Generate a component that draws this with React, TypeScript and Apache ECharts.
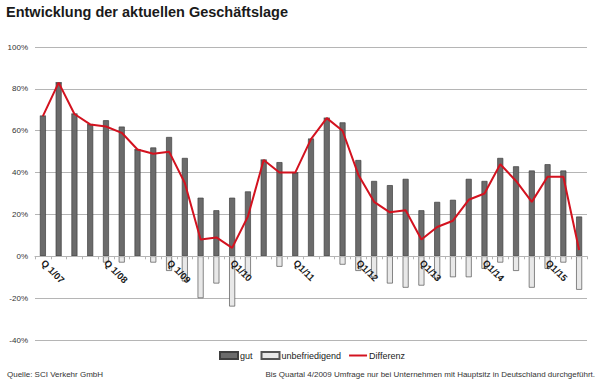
import React, { useEffect, useRef } from "react";
import * as echarts from "echarts";

const categories = [
  "Q 1/07", "Q 2/07", "Q 3/07", "Q 4/07",
  "Q 1/08", "Q 2/08", "Q 3/08", "Q 4/08",
  "Q 1/09", "Q 2/09", "Q 3/09", "Q 4/09",
  "Q1/10", "Q2/10", "Q3/10", "Q4/10",
  "Q1/11", "Q2/11", "Q3/11", "Q4/11",
  "Q1/12", "Q2/12", "Q3/12", "Q4/12",
  "Q1/13", "Q2/13", "Q3/13", "Q4/13",
  "Q1/14", "Q2/14", "Q3/14", "Q4/14",
  "Q1/15", "Q2/15", "Q3/15",
];

const gut = [
  67, 83, 68, 63, 65, 62, 51, 52, 57, 47, 28, 22,
  28, 31, 46, 45, 40, 56, 66, 64, 46, 36, 34, 37,
  22, 26, 27, 37, 36, 47, 43, 41, 44, 41, 19,
];

const unbefriedigend = [
  0, 0, 0, 0, -3, -3, 0, -3, -7, -12, -20, -13,
  -24, -9, 0, -5, 0, 0, 0, -4, -7, -10, -13, -15,
  -14, -11, -10, -10, -6, -3, -7, -15, -6, -3, -16,
];

const differenz = [
  67, 83, 68, 63, 62, 59, 51, 49, 50, 35, 8, 9,
  4, 19, 46, 40, 40, 56, 66, 60, 39, 26, 21, 22,
  8, 14, 17, 27, 30, 44, 36, 26, 38, 38, 3,
];

const yTicks = { min: -40, max: 100, interval: 20 };

const title = "Entwicklung der aktuellen Geschäftslage";
const sourceNote = "Quelle: SCI Verkehr GmbH";
const footNote =
  "Bis Quartal 4/2009 Umfrage nur bei Unternehmen mit Hauptsitz in Deutschland durchgeführt.";

export default function App() {
  const ref = useRef<HTMLDivElement>(null);

  useEffect(() => {
    if (!ref.current) return;
    const chart = echarts.init(ref.current, null, { renderer: "svg" });
    const font = "Liberation Sans, Arial, sans-serif";
    const gridTop = 47;
    const gridBottom = 45;
    const plotH = 385 - gridTop - gridBottom;
    const zeroOffset = -(plotH * (0 - yTicks.min)) / (yTicks.max - yTicks.min);
    chart.setOption({
      animation: false,
      textStyle: { fontFamily: font },
      grid: { left: 35, right: 13, top: gridTop, bottom: gridBottom, containLabel: false },
      legend: {
        top: 346,
        left: 214,
        itemWidth: 18,
        itemHeight: 7,
        itemGap: 8,
        textStyle: { fontSize: 9, color: "#222", fontFamily: font, padding: [0, 0, 0, -3] },
        data: [
          { name: "gut", icon: "rect" },
          { name: "unbefriedigend", icon: "rect" },
          { name: "Differenz", icon: "path://M0,0 L20,0 L20,2.2 L0,2.2 Z" },
        ],
      },
      xAxis: {
        type: "category",
        data: categories,
        boundaryGap: true,
        offset: zeroOffset,
        z: 10,
        axisLine: { onZero: false, lineStyle: { color: "#b5b5b5", width: 1 } },
        axisTick: { show: true, interval: 0, length: 3, lineStyle: { color: "#b5b5b5" } },
        axisLabel: {
          interval: 3,
          rotate: -45,
          margin: 5,
          fontSize: 9.5,
          fontWeight: "bold",
          color: "#1a1a1a",
          fontFamily: font,
        },
        splitLine: { show: false },
      },
      yAxis: {
        type: "value",
        min: yTicks.min,
        max: yTicks.max,
        interval: yTicks.interval,
        axisLine: { show: false },
        axisTick: { show: false },
        axisLabel: {
          formatter: "{value}%",
          fontSize: 8,
          color: "#333",
          margin: 7,
          fontFamily: font,
        },
        splitLine: { lineStyle: { color: "#b5b5b5", width: 1 } },
      },
      series: [
        {
          name: "gut",
          type: "bar",
          stack: "s",
          data: gut,
          barWidth: 6,
          itemStyle: { color: "#6b6b6b", borderColor: "#3f3f3f", borderWidth: 0.7 },
        },
        {
          name: "unbefriedigend",
          type: "bar",
          stack: "s",
          data: unbefriedigend,
          barWidth: 6,
          itemStyle: { color: "#e8e8e8", borderColor: "#555", borderWidth: 0.7 },
        },
        {
          name: "Differenz",
          type: "line",
          data: differenz,
          showSymbol: false,
          symbol: "none",
          lineStyle: { color: "#d3121f", width: 2 },
          itemStyle: { color: "#d3121f" },
          z: 5,
        },
      ],
      graphic: [
        {
          type: "text",
          left: 6,
          top: 4,
          style: {
            text: title,
            font: `bold 14.5px ${font}`,
            fill: "#1a1a1a",
          },
        },
        {
          type: "text",
          left: 7,
          top: 370,
          style: { text: sourceNote, font: `8px ${font}`, fill: "#333" },
        },
        {
          type: "text",
          right: 5,
          top: 370,
          style: { text: footNote, font: `8px ${font}`, fill: "#333" },
        },
      ],
    });
    return () => chart.dispose();
  }, []);

  return (
    <div
      ref={ref}
      style={{ position: "absolute", left: 0, top: 0, width: 600, height: 385, background: "#fff" }}
    />
  );
}
